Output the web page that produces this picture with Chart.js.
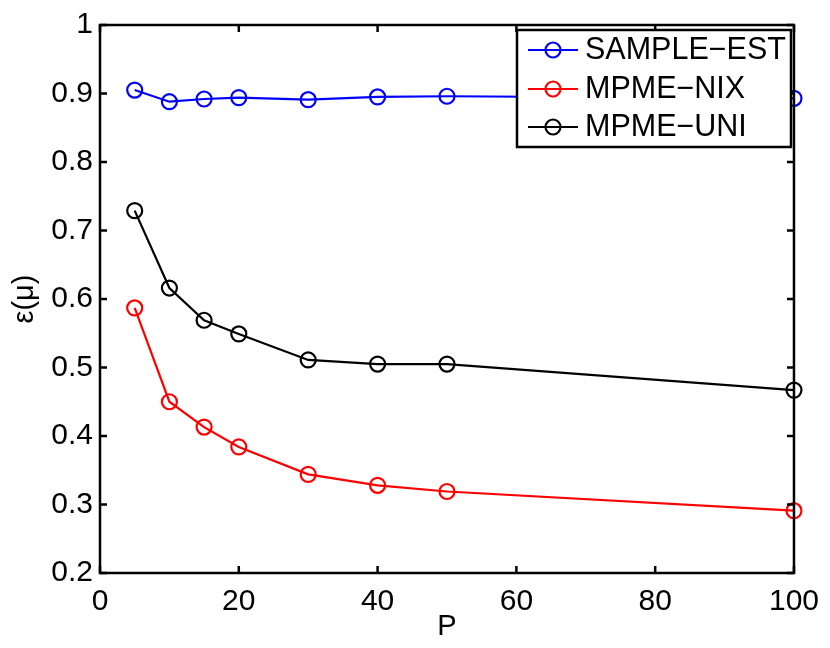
<!DOCTYPE html>
<html>
<head>
<meta charset="utf-8">
<script src="https://cdn.jsdelivr.net/npm/chart.js@4"></script>
<style>
html,body{margin:0;padding:0;background:#fff;}
#wrap{width:830px;height:648px;}
</style>
</head>
<body>
<div id="wrap"><canvas id="c" width="830" height="648"></canvas></div>
<script>
const xValues = [5, 10, 15, 20, 30, 40, 50, 100];
const sampleEst = [0.905, 0.888, 0.892, 0.894, 0.891, 0.895, 0.896, 0.893];
const mpmeNix = [0.587, 0.450, 0.413, 0.384, 0.344, 0.328, 0.319, 0.291];
const mpmeUni = [0.729, 0.616, 0.569, 0.549, 0.511, 0.505, 0.505, 0.467];
const seriesLabels = ['SAMPLE\u2212EST', 'MPME\u2212NIX', 'MPME\u2212UNI'];
const xTicks = [0, 20, 40, 60, 80, 100];
const yTicks = [0.2, 0.3, 0.4, 0.5, 0.6, 0.7, 0.8, 0.9, 1];
const yTickLabels = ['0.2', '0.3', '0.4', '0.5', '0.6', '0.7', '0.8', '0.9', '1'];
const xTitle = 'P';
const yTitle = '\u03b5(\u03bc)';

const FONT = 'Liberation Sans, Arial, Helvetica, sans-serif';

function toPts(ys) { return xValues.map((x, i) => ({x: x, y: ys[i]})); }

function ds(label, ys, color) {
  return {
    label: label,
    data: toPts(ys),
    borderColor: color,
    backgroundColor: 'rgba(0,0,0,0)',
    borderWidth: 2.2,
    pointRadius: 7.5,
    pointHoverRadius: 7.5,
    pointBorderWidth: 2.2,
    pointBorderColor: color,
    pointBackgroundColor: 'rgba(0,0,0,0)',
    tension: 0,
    clip: false
  };
}

const boxPlugin = {
  id: 'boxPlugin',
  afterDatasetsDraw(chart) {
    const ctx = chart.ctx;
    const a = chart.chartArea;
    const xs = chart.scales.x, ys = chart.scales.y;
    ctx.save();
    ctx.strokeStyle = '#000';
    ctx.lineWidth = 2.5;
    ctx.lineCap = 'butt';
    const tl = 7;
    ctx.beginPath();
    xTicks.forEach(v => {
      const px = xs.getPixelForValue(v);
      ctx.moveTo(px, a.bottom); ctx.lineTo(px, a.bottom - tl);
      ctx.moveTo(px, a.top); ctx.lineTo(px, a.top + tl);
    });
    yTicks.forEach(v => {
      const py = ys.getPixelForValue(v);
      ctx.moveTo(a.left, py); ctx.lineTo(a.left + tl, py);
      ctx.moveTo(a.right, py); ctx.lineTo(a.right - tl, py);
    });
    ctx.stroke();
    ctx.strokeRect(a.left, a.top, a.right - a.left, a.bottom - a.top);

    // legend
    const lx = 517, ly = 30, lw = 274, lh = 117;
    ctx.fillStyle = '#fff';
    ctx.fillRect(lx, ly, lw, lh);
    ctx.strokeRect(lx, ly, lw, lh);
    const rows = [50, 89, 127];
    ctx.font = '30.5px ' + FONT;
    ctx.textBaseline = 'middle';
    ctx.textAlign = 'left';
    chart.data.datasets.forEach((d, i) => {
      const y = rows[i];
      ctx.strokeStyle = d.borderColor;
      ctx.lineWidth = 2.2;
      ctx.beginPath();
      ctx.moveTo(528, y); ctx.lineTo(578, y);
      ctx.stroke();
      ctx.beginPath();
      ctx.arc(553, y, 7.5, 0, Math.PI * 2);
      ctx.stroke();
      ctx.fillStyle = '#000';
      ctx.fillText(d.label, 585, y + 1);
    });
    ctx.restore();
  }
};

new Chart(document.getElementById('c'), {
  type: 'line',
  data: {
    datasets: [
      ds(seriesLabels[0], sampleEst, '#0000ff'),
      ds(seriesLabels[1], mpmeNix, '#ff0000'),
      ds(seriesLabels[2], mpmeUni, '#000000')
    ]
  },
  options: {
    responsive: false,
    animation: false,
    devicePixelRatio: 1,
    layout: {padding: {top: 22, right: 32, left: 0, bottom: 0}},
    plugins: {legend: {display: false}, tooltip: {enabled: false}},
    scales: {
      x: {
        type: 'linear', min: 0, max: 100,
        afterFit(s) { s.height = 75; },
        afterBuildTicks(s) { s.ticks = xTicks.map(v => ({value: v})); },
        grid: {display: false, drawTicks: false},
        border: {display: false},
        ticks: {
          color: '#000', padding: 11, maxRotation: 0, autoSkip: false,
          font: {family: FONT, size: 30},
          callback: v => String(v)
        },
        title: {display: true, text: xTitle, color: '#000', font: {family: FONT, size: 29}, padding: {top: 0, bottom: 4}}
      },
      y: {
        type: 'linear', min: 0.2, max: 1,
        afterFit(s) { s.width = 100; },
        afterBuildTicks(s) { s.ticks = yTicks.map(v => ({value: v})); },
        grid: {display: false, drawTicks: false},
        border: {display: false},
        ticks: {
          color: '#000', padding: 7, autoSkip: false,
          font: {family: FONT, size: 30},
          callback: (v) => { const i = yTicks.findIndex(t => Math.abs(t - v) < 1e-9); return i >= 0 ? yTickLabels[i] : ''; }
        },
        title: {display: true, text: yTitle, color: '#000', font: {family: FONT, size: 29}, padding: {top: 8, bottom: 0}}
      }
    }
  },
  plugins: [boxPlugin]
});
</script>
</body>
</html>
